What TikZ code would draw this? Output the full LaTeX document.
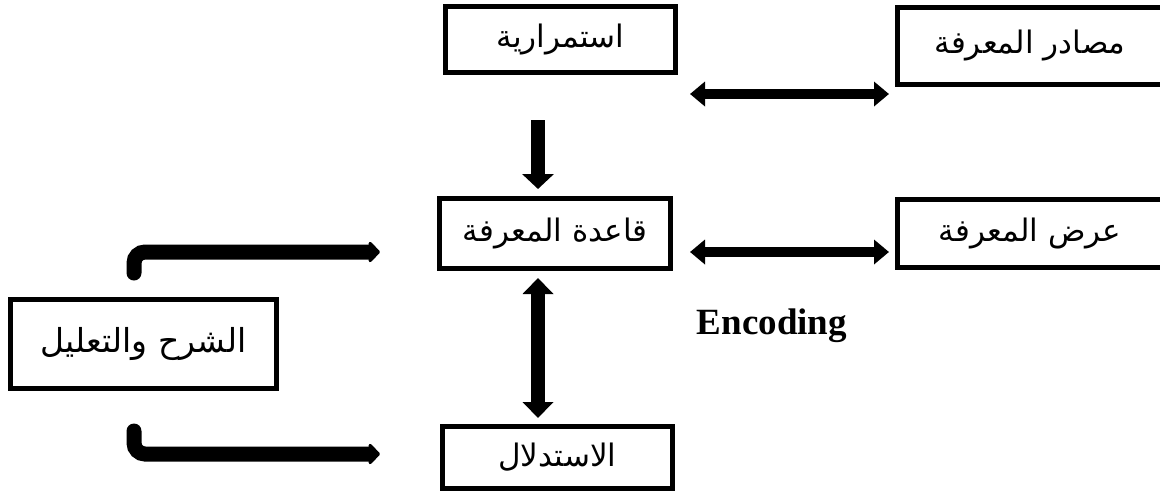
\documentclass[tikz,border=0pt]{standalone}
\usepackage{fontspec}
\setmainfont{Liberation Serif}
\newfontfamily\arabicfont[Script=Arabic]{DejaVu Sans}
\TeXXeTstate=1
\usetikzlibrary{arrows.meta}
\tikzset{
  box/.style={draw, line width=5pt, inner sep=0pt,
    font=\arabicfont\fontsize{31}{36}\selectfont},
  harrow/.style={line width=10pt,
    {Triangle[length=15pt,width=24pt]}-{Triangle[length=15pt,width=24pt]}},
  varrow/.style={line width=14pt,
    -{Triangle[length=15pt,width=31pt]}},
  vdarrow/.style={line width=14pt,
    {Triangle[length=16pt,width=30pt]}-{Triangle[length=16pt,width=30pt]}},
  elbow/.style={line width=15pt, rounded corners=11pt, line cap=round,
    -{Triangle[length=12pt,width=24pt,round]}},
}
\begin{document}
\begin{tikzpicture}[x=1pt,y=-1pt]
\useasboundingbox (0,0) rectangle (1160,496);
\clip (0,0) rectangle (1160,496);
% boxes
\node[box, minimum width=230pt, minimum height=66pt] (ist) at (560.5,39.5) {\beginR استمرارية\endR};
\node[box, minimum width=265pt, minimum height=77pt] (mas) at (1030,46) {\beginR مصادر المعرفة\endR};
\node[box, minimum width=231pt, minimum height=70pt] (qa) at (555,233.5) {\beginR قاعدة المعرفة\endR};
\node[box, minimum width=265pt, minimum height=68pt] (ard) at (1030,233.5) {\beginR عرض المعرفة\endR};
\node[box, minimum width=266pt, minimum height=89pt, font=\arabicfont\fontsize{33}{38}\selectfont] (sh) at (143.5,344) {\beginR الشرح والتعليل\endR};
\node[box, minimum width=230pt, minimum height=62pt] (stl) at (557.5,457.5) {\beginR الاستدلال\endR};
\node[font=\bfseries\fontsize{37}{42}\selectfont, inner sep=0pt] (enc) at (772,326) {Encoding};
% connector ends
\coordinate (a1) at (690,94);   \coordinate (a2) at (889,94);
\coordinate (b1) at (538,120);  \coordinate (b2) at (538,189);
\coordinate (c1) at (690,252);  \coordinate (c2) at (889,252);
\coordinate (d1) at (538,278);  \coordinate (d2) at (538,418);
\coordinate (e1) at (134,273);  \coordinate (e2) at (380,252);
\coordinate (f1) at (134,431);  \coordinate (f2) at (380,454);
% connectors
\draw[harrow] (a1) -- (a2);
\draw[varrow] (b1) -- (b2);
\draw[harrow] (c1) -- (c2);
\draw[vdarrow] (d1) -- (d2);
\draw[elbow] (e1) |- (e2);
\draw[elbow] (f1) |- (f2);
\end{tikzpicture}
\end{document}
